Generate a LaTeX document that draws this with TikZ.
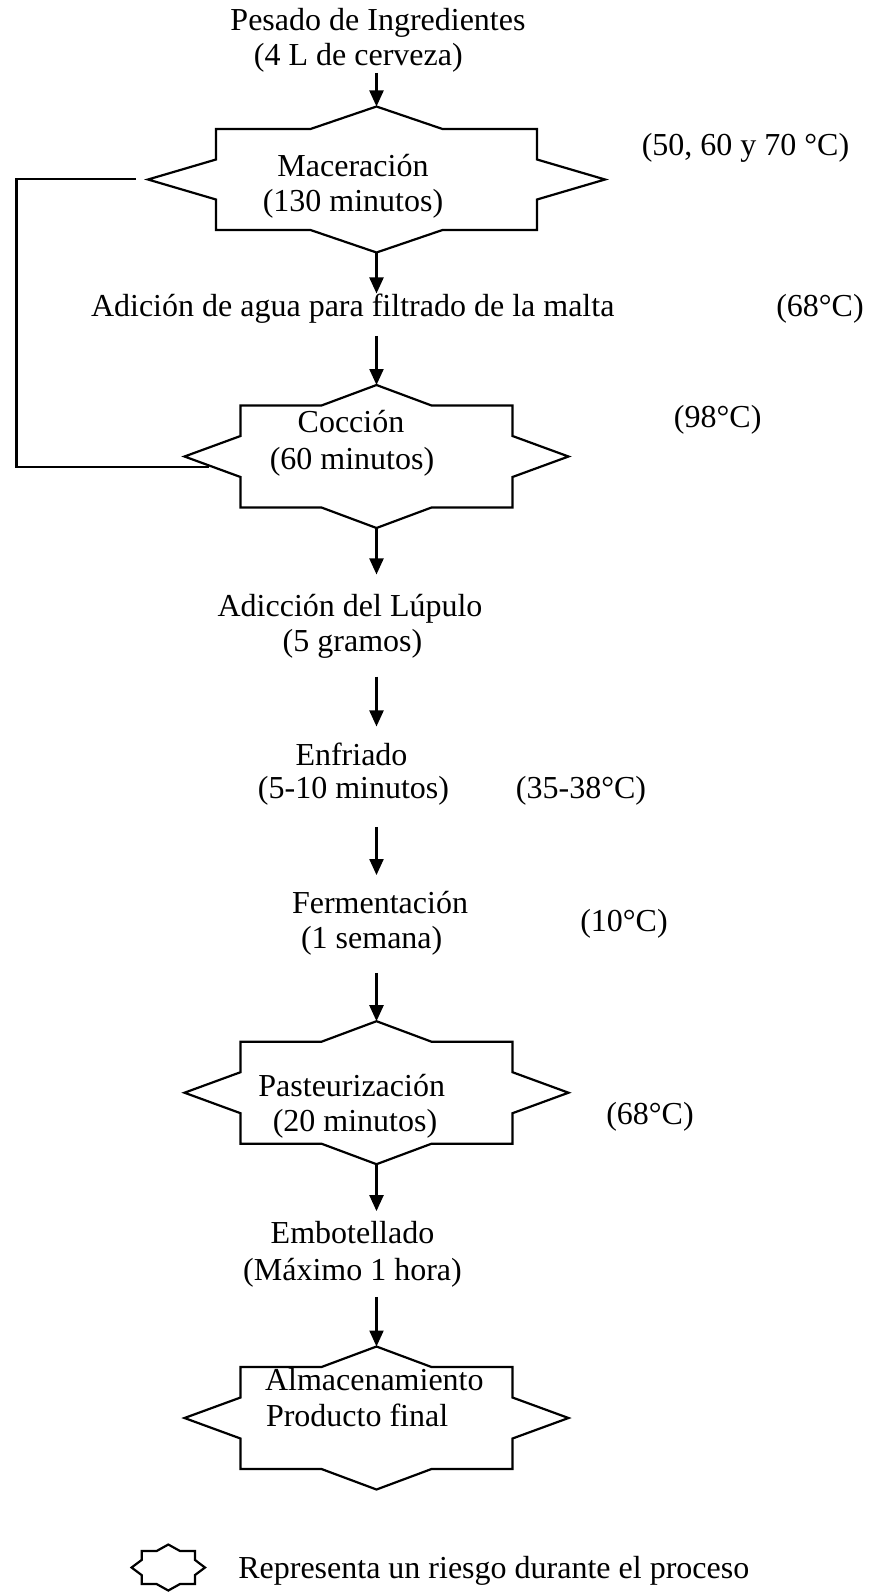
\documentclass[tikz,border=0pt]{standalone}
\usepackage{fontspec}
\setmainfont{Liberation Serif}
\usetikzlibrary{calc,arrows.meta}
\newcommand{\riskoutline}[5]{%
  \draw[starline] (#1.north) -- ($(#1.center)+(-#2,#4)$) -- ($(#1.center)+(-#3,#4)$)
   -- ($(#1.center)+(-#3,#5)$) -- (#1.west) -- ($(#1.center)+(-#3,-#5)$)
   -- ($(#1.center)+(-#3,-#4)$) -- ($(#1.center)+(-#2,-#4)$) -- (#1.south)
   -- ($(#1.center)+(#2,-#4)$) -- ($(#1.center)+(#3,-#4)$) -- ($(#1.center)+(#3,-#5)$)
   -- (#1.east) -- ($(#1.center)+(#3,#5)$) -- ($(#1.center)+(#3,#4)$)
   -- ($(#1.center)+(#2,#4)$) -- cycle;}
\begin{document}
\begin{tikzpicture}[x=1pt,y=1pt,
  txt/.style={inner sep=0pt, outer sep=0pt, font=\fontsize{32}{36}\selectfont, anchor=base},
  starbox/.style={draw=none, shape=rectangle, inner sep=0pt, outer sep=0pt},
  bigstar/.style={starbox, minimum width=384pt, minimum height=143pt},
  starline/.style={line width=2.2pt, line join=miter},
  flowline/.style={line width=2.2pt},
  arrow/.style={line width=2.2pt, -{Triangle[width=14pt,length=16pt]}}]
\useasboundingbox (0,0) rectangle (870,-1592);

% title
\node[txt] (t1) at (378,-30.5) {Pesado de Ingredientes};
\node[txt] (t2) at (358.3,-66) {(4 L de cerveza)};

% Maceracion
\node[starbox, minimum width=457pt, minimum height=146pt] (mac) at (376.5,-179.5) {};
\riskoutline{mac}{66}{160.5}{50.5}{20}
\node[txt] (mac1) at (353,-176.5) {Maceración};
\node[txt] (mac2) at (353,-211.5) {(130 minutos)};
\node[txt] (temp1) at (745.5,-155) {(50, 60 y 70 °C)};

\node[txt] (agua) at (352.7,-316) {Adición de agua para filtrado de la malta};
\node[txt] (temp2) at (820,-316) {(68°C)};

% Coccion
\node[bigstar] (coc) at (376.5,-456.5) {};
\riskoutline{coc}{55}{136}{51}{20.5}
\node[txt] (coc1) at (351,-432) {Cocción};
\node[txt] (coc2) at (352,-469) {(60 minutos)};
\node[txt] (temp3) at (717.7,-427) {(98°C)};

\node[txt] (lup1) at (350,-616.7) {Adicción del Lúpulo};
\node[txt] (lup2) at (352.5,-651.7) {(5 gramos)};

\node[txt] (enf1) at (351.5,-765) {Enfriado};
\node[txt] (enf2) at (353.5,-798) {(5-10 minutos)};
\node[txt] (temp4) at (581,-798) {(35-38°C)};

\node[txt] (fer1) at (380,-913.3) {Fermentación};
\node[txt] (fer2) at (371.7,-948) {(1 semana)};
\node[txt] (temp5) at (624,-931.7) {(10°C)};

% Pasteurizacion
\node[bigstar] (pas) at (376.5,-1092.7) {};
\riskoutline{pas}{55}{136}{51}{20.5}
\node[txt] (pas1) at (351.7,-1096.7) {Pasteurización};
\node[txt] (pas2) at (355,-1131.7) {(20 minutos)};
\node[txt] (temp6) at (650,-1124) {(68°C)};

\node[txt] (emb1) at (352.5,-1243.3) {Embotellado};
\node[txt] (emb2) at (352.5,-1280) {(Máximo 1 hora)};

% Almacenamiento
\node[bigstar] (alm) at (376.5,-1418) {};
\riskoutline{alm}{55}{136}{51}{20.5}
\node[txt, anchor=base west] (alm1) at (265,-1390) {Almacenamiento};
\node[txt, anchor=base west] (alm2) at (266,-1426.7) {Producto final};

% legend
\node[starbox, minimum width=73.4pt, minimum height=46pt] (leg) at (168.3,-1567.5) {};
\riskoutline{leg}{11.7}{26.6}{16.5}{7.6}
\node[txt, anchor=base west] (legT) at (238.3,-1578) {Representa un riesgo durante el proceso};

% arrows
\draw[arrow] (t2.south -| mac.north) -- (mac.north);
\draw[arrow] (mac.south) -- (agua.north -| mac.south);
\draw[arrow, shorten <=13pt] (agua.south -| coc.north) -- (coc.north);
\draw[arrow, shorten >=20pt] (coc.south) -- (lup1.north -| coc.south);
\draw[arrow, shorten <=18pt, shorten >=16pt] (lup2.south -| coc.south) -- (enf1.north -| coc.south);
\draw[arrow, shorten <=22pt, shorten >=16pt] (enf2.south -| coc.south) -- (fer1.north -| coc.south);
\draw[arrow, shorten <=18pt] (fer2.south -| pas.north) -- (pas.north);
\draw[arrow, shorten >=10pt] (pas.south) -- (emb1.north -| pas.south);
\draw[arrow, shorten <=10pt] (emb2.south -| alm.north) -- (alm.north);

% feedback line
\coordinate (fbA) at (136,-179);
\coordinate (fbB) at (209,-467.3);
\draw[flowline] (fbA) -- ++(-119.5,0) |- (fbB);
\end{tikzpicture}
\end{document}
